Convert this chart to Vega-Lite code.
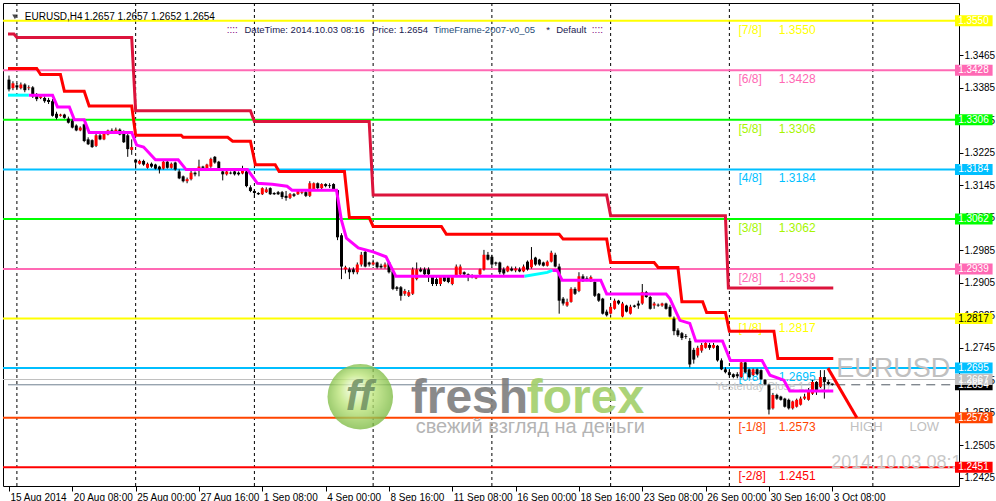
{
"$schema":"https://vega.github.io/schema/vega-lite/v6.json",
"width":956,"height":483,
"autosize":{"type":"none"},
"padding":{"left":3,"top":3,"right":37,"bottom":15},
"background":"#FFFFFF",
"config":{"view":{"stroke":"#000000","strokeWidth":1},"font":"Liberation Sans","text":{"font":"Liberation Sans"},
 "axis":{"grid":false,"domain":false,"labelFont":"Liberation Sans","labelFontSize":10,"labelColor":"#000000","tickColor":"#000000"}},
"resolve":{"scale":{"color":"independent"}},
"datasets":{
"grid":[{"i":2},{"i":32},{"i":62},{"i":92},{"i":122},{"i":152},{"i":182},{"i":218.25}],
"levels":[
{"lv":1.3550,"tag":"[7/8]","t":"1.3550"},
{"lv":1.3428,"tag":"[6/8]","t":"1.3428"},
{"lv":1.3306,"tag":"[5/8]","t":"1.3306"},
{"lv":1.3184,"tag":"[4/8]","t":"1.3184"},
{"lv":1.3062,"tag":"[3/8]","t":"1.3062"},
{"lv":1.2939,"tag":"[2/8]","t":"1.2939"},
{"lv":1.2817,"tag":"[1/8]","t":"1.2817"},
{"lv":1.2695,"tag":"[0/8]","t":"1.2695"},
{"lv":1.2573,"tag":"[-1/8]","t":"1.2573"},
{"lv":1.2451,"tag":"[-2/8]","t":"1.2451"}],
"boxes":[
{"p":1.3550,"t":"1.3550"},{"p":1.3428,"t":"1.3428"},{"p":1.3306,"t":"1.3306"},{"p":1.3184,"t":"1.3184"},
{"p":1.3062,"t":"1.3062"},{"p":1.2939,"t":"1.2939"},{"p":1.2817,"t":"1.2817"},{"p":1.2695,"t":"1.2695"},
{"p":1.2654,"t":"1.2654"},{"p":1.2667,"t":"1.2667"},{"p":1.2573,"t":"1.2573"},{"p":1.2451,"t":"1.2451"}],
"crimson":[
{"i":-0.25,"p":1.35174},{"i":1.25,"p":1.35174},{"i":2,"p":1.3509},{"i":31,"p":1.3509},{"i":32,"p":1.33282},{"i":61,"p":1.33282},{"i":62,"p":1.33017},{"i":91,"p":1.33017},{"i":92,"p":1.3121},{"i":151,"p":1.3121},{"i":152,"p":1.30703},{"i":181,"p":1.30703},{"i":181.75,"p":1.2892},{"i":208.25,"p":1.2892}],
"redline":[
{"i":-0.25,"p":1.34326},{"i":7,"p":1.34326},{"i":8,"p":1.34174},{"i":13,"p":1.34174},{"i":14,"p":1.33764},{"i":19,"p":1.33764},{"i":20.25,"p":1.33403},{"i":31,"p":1.33403},{"i":32,"p":1.3268},{"i":43.5,"p":1.3268},{"i":44,"p":1.32632},{"i":55.25,"p":1.32632},{"i":56.5,"p":1.32535},{"i":61,"p":1.32535},{"i":62.25,"p":1.31957},{"i":67.25,"p":1.31957},{"i":68.25,"p":1.31788},{"i":84.75,"p":1.31788},{"i":86,"p":1.30655},{"i":91,"p":1.30655},{"i":92,"p":1.30438},{"i":109.25,"p":1.30438},{"i":110.5,"p":1.30245},{"i":139,"p":1.30245},{"i":140,"p":1.30125},{"i":151,"p":1.30125},{"i":152,"p":1.29547},{"i":163,"p":1.29547},{"i":164,"p":1.29426},{"i":169,"p":1.29426},{"i":170,"p":1.28583},{"i":175.25,"p":1.28583},{"i":176.25,"p":1.28318},{"i":181,"p":1.28318},{"i":182,"p":1.2786},{"i":193.25,"p":1.2786},{"i":194.25,"p":1.27185},{"i":208.25,"p":1.27185}],
"magenta":[
{"i":5,"p":1.33668},{"i":11,"p":1.33668},{"i":12.25,"p":1.33379},{"i":15.25,"p":1.33379},{"i":16.5,"p":1.33065},{"i":19,"p":1.33065},{"i":20.25,"p":1.32752},{"i":31,"p":1.32752},{"i":32.25,"p":1.32439},{"i":34,"p":1.32391},{"i":37,"p":1.32077},{"i":42.75,"p":1.32077},{"i":44.75,"p":1.31836},{"i":60.25,"p":1.31836},{"i":62.75,"p":1.31499},{"i":66.5,"p":1.31475},{"i":70.25,"p":1.31427},{"i":71.5,"p":1.3133},{"i":82.75,"p":1.3133},{"i":84,"p":1.30583},{"i":85.25,"p":1.30149},{"i":88.25,"p":1.29908},{"i":92,"p":1.29812},{"i":95.25,"p":1.29691},{"i":97.75,"p":1.29209},{"i":130.25,"p":1.29209}],
"magenta2":[
{"i":137.25,"p":1.29354},{"i":138.5,"p":1.29354},{"i":139.75,"p":1.29113},{"i":149.5,"p":1.29113},{"i":151,"p":1.28776},{"i":166,"p":1.28776},{"i":167,"p":1.28655},{"i":169.5,"p":1.28125},{"i":172,"p":1.28052},{"i":173.5,"p":1.27619},{"i":180.25,"p":1.27619},{"i":182.25,"p":1.27137},{"i":190.25,"p":1.27137},{"i":192.25,"p":1.26775},{"i":195.75,"p":1.26655},{"i":197.25,"p":1.2639},{"i":208.25,"p":1.2639}],
"cyan1":[{"i":-0.25,"p":1.33668},{"i":5,"p":1.33668}],
"cyan2":[{"i":130.25,"p":1.29209},{"i":136,"p":1.29306},{"i":137.25,"p":1.29354}],
"diag":[{"i":206.9,"p":1.2695},{"i":214.2,"p":1.2573}],
"candles":[
{"i":0,"o":1.3405,"h":1.3415,"l":1.3376,"c":1.3381},
{"i":1,"o":1.3384,"h":1.3401,"l":1.3379,"c":1.3396},
{"i":2,"o":1.3391,"h":1.3396,"l":1.3381,"c":1.3386},
{"i":3,"o":1.3384,"h":1.3398,"l":1.3381,"c":1.3393},
{"i":4,"o":1.3393,"h":1.3396,"l":1.3374,"c":1.3379},
{"i":5,"o":1.3384,"h":1.3391,"l":1.3379,"c":1.3386},
{"i":6,"o":1.3386,"h":1.3389,"l":1.3360,"c":1.3364},
{"i":7,"o":1.3367,"h":1.3372,"l":1.3352,"c":1.3357},
{"i":8,"o":1.3360,"h":1.3369,"l":1.3357,"c":1.3364},
{"i":9,"o":1.3360,"h":1.3364,"l":1.3348,"c":1.3352},
{"i":10,"o":1.3355,"h":1.3360,"l":1.3345,"c":1.3350},
{"i":11,"o":1.3352,"h":1.3357,"l":1.3314,"c":1.3316},
{"i":12,"o":1.3321,"h":1.3326,"l":1.3307,"c":1.3311},
{"i":13,"o":1.3316,"h":1.3321,"l":1.3314,"c":1.3319},
{"i":14,"o":1.3319,"h":1.3321,"l":1.3309,"c":1.3311},
{"i":15,"o":1.3309,"h":1.3314,"l":1.3297,"c":1.3299},
{"i":16,"o":1.3304,"h":1.3309,"l":1.3285,"c":1.3287},
{"i":17,"o":1.3292,"h":1.3295,"l":1.3278,"c":1.3280},
{"i":18,"o":1.3280,"h":1.3290,"l":1.3278,"c":1.3287},
{"i":19,"o":1.3295,"h":1.3297,"l":1.3251,"c":1.3254},
{"i":20,"o":1.3258,"h":1.3263,"l":1.3244,"c":1.3246},
{"i":21,"o":1.3256,"h":1.3258,"l":1.3237,"c":1.3239},
{"i":22,"o":1.3242,"h":1.3273,"l":1.3239,"c":1.3268},
{"i":23,"o":1.3268,"h":1.3275,"l":1.3256,"c":1.3258},
{"i":24,"o":1.3258,"h":1.3278,"l":1.3256,"c":1.3273},
{"i":25,"o":1.3270,"h":1.3282,"l":1.3268,"c":1.3280},
{"i":26,"o":1.3280,"h":1.3285,"l":1.3273,"c":1.3275},
{"i":27,"o":1.3275,"h":1.3287,"l":1.3273,"c":1.3282},
{"i":28,"o":1.3282,"h":1.3285,"l":1.3268,"c":1.3270},
{"i":29,"o":1.3275,"h":1.3280,"l":1.3249,"c":1.3251},
{"i":30,"o":1.3268,"h":1.3273,"l":1.3215,"c":1.3234},
{"i":31,"o":1.3232,"h":1.3258,"l":1.3220,"c":1.3239},
{"i":32,"o":1.3208,"h":1.3210,"l":1.3186,"c":1.3201},
{"i":33,"o":1.3198,"h":1.3208,"l":1.3196,"c":1.3205},
{"i":34,"o":1.3205,"h":1.3208,"l":1.3193,"c":1.3196},
{"i":35,"o":1.3188,"h":1.3201,"l":1.3186,"c":1.3198},
{"i":36,"o":1.3198,"h":1.3201,"l":1.3188,"c":1.3191},
{"i":37,"o":1.3196,"h":1.3198,"l":1.3184,"c":1.3186},
{"i":38,"o":1.3191,"h":1.3193,"l":1.3174,"c":1.3184},
{"i":39,"o":1.3186,"h":1.3205,"l":1.3184,"c":1.3203},
{"i":40,"o":1.3203,"h":1.3205,"l":1.3186,"c":1.3188},
{"i":41,"o":1.3188,"h":1.3201,"l":1.3186,"c":1.3198},
{"i":42,"o":1.3201,"h":1.3203,"l":1.3181,"c":1.3184},
{"i":43,"o":1.3179,"h":1.3184,"l":1.3160,"c":1.3162},
{"i":44,"o":1.3167,"h":1.3169,"l":1.3152,"c":1.3155},
{"i":45,"o":1.3155,"h":1.3164,"l":1.3150,"c":1.3160},
{"i":46,"o":1.3160,"h":1.3181,"l":1.3157,"c":1.3176},
{"i":47,"o":1.3176,"h":1.3179,"l":1.3167,"c":1.3172},
{"i":48,"o":1.3181,"h":1.3208,"l":1.3167,"c":1.3191},
{"i":49,"o":1.3191,"h":1.3193,"l":1.3186,"c":1.3188},
{"i":50,"o":1.3186,"h":1.3198,"l":1.3184,"c":1.3196},
{"i":51,"o":1.3191,"h":1.3213,"l":1.3188,"c":1.3210},
{"i":52,"o":1.3215,"h":1.3217,"l":1.3198,"c":1.3201},
{"i":53,"o":1.3203,"h":1.3205,"l":1.3184,"c":1.3186},
{"i":54,"o":1.3179,"h":1.3184,"l":1.3157,"c":1.3172},
{"i":55,"o":1.3172,"h":1.3181,"l":1.3169,"c":1.3179},
{"i":56,"o":1.3176,"h":1.3179,"l":1.3172,"c":1.3174},
{"i":57,"o":1.3179,"h":1.3181,"l":1.3169,"c":1.3172},
{"i":58,"o":1.3176,"h":1.3179,"l":1.3169,"c":1.3172},
{"i":59,"o":1.3174,"h":1.3193,"l":1.3172,"c":1.3181},
{"i":60,"o":1.3179,"h":1.3184,"l":1.3140,"c":1.3143},
{"i":61,"o":1.3140,"h":1.3145,"l":1.3128,"c":1.3131},
{"i":62,"o":1.3131,"h":1.3135,"l":1.3114,"c":1.3126},
{"i":63,"o":1.3126,"h":1.3128,"l":1.3121,"c":1.3123},
{"i":64,"o":1.3123,"h":1.3140,"l":1.3121,"c":1.3138},
{"i":65,"o":1.3128,"h":1.3140,"l":1.3126,"c":1.3135},
{"i":66,"o":1.3138,"h":1.3140,"l":1.3121,"c":1.3123},
{"i":67,"o":1.3126,"h":1.3128,"l":1.3121,"c":1.3123},
{"i":68,"o":1.3128,"h":1.3131,"l":1.3121,"c":1.3123},
{"i":69,"o":1.3128,"h":1.3131,"l":1.3111,"c":1.3116},
{"i":70,"o":1.3119,"h":1.3131,"l":1.3107,"c":1.3114},
{"i":71,"o":1.3114,"h":1.3126,"l":1.3111,"c":1.3123},
{"i":72,"o":1.3123,"h":1.3126,"l":1.3116,"c":1.3119},
{"i":73,"o":1.3123,"h":1.3133,"l":1.3121,"c":1.3131},
{"i":74,"o":1.3126,"h":1.3133,"l":1.3123,"c":1.3128},
{"i":75,"o":1.3128,"h":1.3131,"l":1.3116,"c":1.3119},
{"i":76,"o":1.3119,"h":1.3155,"l":1.3116,"c":1.3150},
{"i":77,"o":1.3135,"h":1.3152,"l":1.3133,"c":1.3150},
{"i":78,"o":1.3150,"h":1.3152,"l":1.3135,"c":1.3138},
{"i":79,"o":1.3138,"h":1.3150,"l":1.3135,"c":1.3148},
{"i":80,"o":1.3148,"h":1.3150,"l":1.3140,"c":1.3143},
{"i":81,"o":1.3145,"h":1.3150,"l":1.3138,"c":1.3143},
{"i":82,"o":1.3148,"h":1.3150,"l":1.3133,"c":1.3135},
{"i":83,"o":1.3133,"h":1.3135,"l":1.3010,"c":1.3017},
{"i":84,"o":1.3022,"h":1.3027,"l":1.2914,"c":1.2945},
{"i":85,"o":1.2938,"h":1.2947,"l":1.2928,"c":1.2943},
{"i":86,"o":1.2938,"h":1.2943,"l":1.2914,"c":1.2931},
{"i":87,"o":1.2938,"h":1.2943,"l":1.2926,"c":1.2931},
{"i":88,"o":1.2931,"h":1.2955,"l":1.2926,"c":1.2950},
{"i":89,"o":1.2950,"h":1.2981,"l":1.2945,"c":1.2974},
{"i":90,"o":1.2981,"h":1.2986,"l":1.2943,"c":1.2945},
{"i":91,"o":1.2955,"h":1.2957,"l":1.2945,"c":1.2950},
{"i":92,"o":1.2950,"h":1.2962,"l":1.2947,"c":1.2955},
{"i":93,"o":1.2955,"h":1.2957,"l":1.2940,"c":1.2943},
{"i":94,"o":1.2947,"h":1.2952,"l":1.2940,"c":1.2943},
{"i":95,"o":1.2943,"h":1.2955,"l":1.2940,"c":1.2950},
{"i":96,"o":1.2955,"h":1.2957,"l":1.2928,"c":1.2931},
{"i":97,"o":1.2933,"h":1.2935,"l":1.2887,"c":1.2890},
{"i":98,"o":1.2894,"h":1.2897,"l":1.2885,"c":1.2890},
{"i":99,"o":1.2894,"h":1.2897,"l":1.2861,"c":1.2873},
{"i":100,"o":1.2878,"h":1.2890,"l":1.2873,"c":1.2885},
{"i":101,"o":1.2873,"h":1.2887,"l":1.2870,"c":1.2882},
{"i":102,"o":1.2878,"h":1.2943,"l":1.2875,"c":1.2938},
{"i":103,"o":1.2914,"h":1.2955,"l":1.2911,"c":1.2938},
{"i":104,"o":1.2938,"h":1.2943,"l":1.2931,"c":1.2933},
{"i":105,"o":1.2938,"h":1.2943,"l":1.2923,"c":1.2926},
{"i":106,"o":1.2938,"h":1.2943,"l":1.2907,"c":1.2926},
{"i":107,"o":1.2921,"h":1.2923,"l":1.2897,"c":1.2902},
{"i":108,"o":1.2914,"h":1.2919,"l":1.2897,"c":1.2902},
{"i":109,"o":1.2902,"h":1.2923,"l":1.2897,"c":1.2919},
{"i":110,"o":1.2919,"h":1.2923,"l":1.2907,"c":1.2909},
{"i":111,"o":1.2919,"h":1.2923,"l":1.2904,"c":1.2907},
{"i":112,"o":1.2902,"h":1.2923,"l":1.2899,"c":1.2919},
{"i":113,"o":1.2921,"h":1.2950,"l":1.2919,"c":1.2945},
{"i":114,"o":1.2926,"h":1.2950,"l":1.2923,"c":1.2945},
{"i":115,"o":1.2931,"h":1.2933,"l":1.2923,"c":1.2926},
{"i":116,"o":1.2926,"h":1.2928,"l":1.2909,"c":1.2921},
{"i":117,"o":1.2921,"h":1.2926,"l":1.2916,"c":1.2919},
{"i":118,"o":1.2916,"h":1.2923,"l":1.2914,"c":1.2919},
{"i":119,"o":1.2926,"h":1.2940,"l":1.2921,"c":1.2938},
{"i":120,"o":1.2938,"h":1.2986,"l":1.2935,"c":1.2974},
{"i":121,"o":1.2974,"h":1.2981,"l":1.2960,"c":1.2962},
{"i":122,"o":1.2969,"h":1.2974,"l":1.2943,"c":1.2950},
{"i":123,"o":1.2955,"h":1.2957,"l":1.2947,"c":1.2952},
{"i":124,"o":1.2955,"h":1.2957,"l":1.2926,"c":1.2931},
{"i":125,"o":1.2938,"h":1.2943,"l":1.2923,"c":1.2928},
{"i":126,"o":1.2933,"h":1.2947,"l":1.2931,"c":1.2945},
{"i":127,"o":1.2940,"h":1.2945,"l":1.2933,"c":1.2935},
{"i":128,"o":1.2935,"h":1.2945,"l":1.2931,"c":1.2940},
{"i":129,"o":1.2938,"h":1.2943,"l":1.2931,"c":1.2933},
{"i":130,"o":1.2933,"h":1.2950,"l":1.2931,"c":1.2945},
{"i":131,"o":1.2957,"h":1.2960,"l":1.2935,"c":1.2938},
{"i":132,"o":1.2943,"h":1.2993,"l":1.2940,"c":1.2962},
{"i":133,"o":1.2967,"h":1.2969,"l":1.2947,"c":1.2950},
{"i":134,"o":1.2962,"h":1.2964,"l":1.2947,"c":1.2950},
{"i":135,"o":1.2955,"h":1.2957,"l":1.2945,"c":1.2947},
{"i":136,"o":1.2947,"h":1.2960,"l":1.2945,"c":1.2957},
{"i":137,"o":1.2957,"h":1.2984,"l":1.2955,"c":1.2979},
{"i":138,"o":1.2974,"h":1.2979,"l":1.2943,"c":1.2945},
{"i":139,"o":1.2945,"h":1.2952,"l":1.2829,"c":1.2861},
{"i":140,"o":1.2866,"h":1.2870,"l":1.2849,"c":1.2854},
{"i":141,"o":1.2849,"h":1.2866,"l":1.2846,"c":1.2858},
{"i":142,"o":1.2858,"h":1.2894,"l":1.2856,"c":1.2890},
{"i":143,"o":1.2890,"h":1.2894,"l":1.2875,"c":1.2878},
{"i":144,"o":1.2885,"h":1.2931,"l":1.2882,"c":1.2921},
{"i":145,"o":1.2921,"h":1.2926,"l":1.2907,"c":1.2909},
{"i":146,"o":1.2916,"h":1.2921,"l":1.2909,"c":1.2911},
{"i":147,"o":1.2909,"h":1.2923,"l":1.2907,"c":1.2919},
{"i":148,"o":1.2907,"h":1.2909,"l":1.2870,"c":1.2873},
{"i":149,"o":1.2878,"h":1.2880,"l":1.2858,"c":1.2861},
{"i":150,"o":1.2866,"h":1.2868,"l":1.2827,"c":1.2829},
{"i":151,"o":1.2834,"h":1.2839,"l":1.2822,"c":1.2825},
{"i":152,"o":1.2829,"h":1.2851,"l":1.2827,"c":1.2846},
{"i":153,"o":1.2841,"h":1.2866,"l":1.2839,"c":1.2861},
{"i":154,"o":1.2861,"h":1.2863,"l":1.2851,"c":1.2854},
{"i":155,"o":1.2822,"h":1.2858,"l":1.2820,"c":1.2854},
{"i":156,"o":1.2849,"h":1.2851,"l":1.2832,"c":1.2834},
{"i":157,"o":1.2829,"h":1.2851,"l":1.2827,"c":1.2846},
{"i":158,"o":1.2849,"h":1.2851,"l":1.2844,"c":1.2846},
{"i":159,"o":1.2854,"h":1.2861,"l":1.2841,"c":1.2849},
{"i":160,"o":1.2854,"h":1.2902,"l":1.2851,"c":1.2882},
{"i":161,"o":1.2882,"h":1.2885,"l":1.2868,"c":1.2870},
{"i":162,"o":1.2870,"h":1.2873,"l":1.2839,"c":1.2841},
{"i":163,"o":1.2849,"h":1.2858,"l":1.2841,"c":1.2854},
{"i":164,"o":1.2851,"h":1.2854,"l":1.2846,"c":1.2849},
{"i":165,"o":1.2849,"h":1.2856,"l":1.2846,"c":1.2854},
{"i":166,"o":1.2854,"h":1.2856,"l":1.2839,"c":1.2841},
{"i":167,"o":1.2846,"h":1.2851,"l":1.2820,"c":1.2822},
{"i":168,"o":1.2817,"h":1.2822,"l":1.2776,"c":1.2786},
{"i":169,"o":1.2788,"h":1.2793,"l":1.2772,"c":1.2776},
{"i":170,"o":1.2781,"h":1.2784,"l":1.2764,"c":1.2769},
{"i":171,"o":1.2774,"h":1.2779,"l":1.2767,"c":1.2772},
{"i":172,"o":1.2762,"h":1.2769,"l":1.2697,"c":1.2704},
{"i":173,"o":1.2740,"h":1.2745,"l":1.2706,"c":1.2716},
{"i":174,"o":1.2726,"h":1.2750,"l":1.2721,"c":1.2745},
{"i":175,"o":1.2738,"h":1.2757,"l":1.2733,"c":1.2752},
{"i":176,"o":1.2745,"h":1.2762,"l":1.2743,"c":1.2757},
{"i":177,"o":1.2752,"h":1.2757,"l":1.2740,"c":1.2745},
{"i":178,"o":1.2745,"h":1.2757,"l":1.2743,"c":1.2752},
{"i":179,"o":1.2750,"h":1.2752,"l":1.2711,"c":1.2714},
{"i":180,"o":1.2714,"h":1.2719,"l":1.2690,"c":1.2692},
{"i":181,"o":1.2692,"h":1.2697,"l":1.2682,"c":1.2685},
{"i":182,"o":1.2685,"h":1.2690,"l":1.2675,"c":1.2678},
{"i":183,"o":1.2680,"h":1.2682,"l":1.2670,"c":1.2673},
{"i":184,"o":1.2680,"h":1.2685,"l":1.2670,"c":1.2675},
{"i":185,"o":1.2673,"h":1.2714,"l":1.2670,"c":1.2709},
{"i":186,"o":1.2709,"h":1.2711,"l":1.2682,"c":1.2685},
{"i":187,"o":1.2692,"h":1.2694,"l":1.2670,"c":1.2673},
{"i":188,"o":1.2678,"h":1.2694,"l":1.2675,"c":1.2692},
{"i":189,"o":1.2692,"h":1.2694,"l":1.2678,"c":1.2680},
{"i":190,"o":1.2690,"h":1.2692,"l":1.2666,"c":1.2668},
{"i":191,"o":1.2666,"h":1.2668,"l":1.2653,"c":1.2656},
{"i":192,"o":1.2653,"h":1.2656,"l":1.2581,"c":1.2593},
{"i":193,"o":1.2596,"h":1.2634,"l":1.2593,"c":1.2629},
{"i":194,"o":1.2629,"h":1.2632,"l":1.2617,"c":1.2620},
{"i":195,"o":1.2625,"h":1.2627,"l":1.2615,"c":1.2617},
{"i":196,"o":1.2620,"h":1.2622,"l":1.2598,"c":1.2600},
{"i":197,"o":1.2617,"h":1.2620,"l":1.2593,"c":1.2596},
{"i":198,"o":1.2596,"h":1.2615,"l":1.2593,"c":1.2613},
{"i":199,"o":1.2600,"h":1.2620,"l":1.2598,"c":1.2617},
{"i":200,"o":1.2605,"h":1.2625,"l":1.2603,"c":1.2620},
{"i":201,"o":1.2620,"h":1.2632,"l":1.2617,"c":1.2625},
{"i":202,"o":1.2617,"h":1.2646,"l":1.2615,"c":1.2641},
{"i":203,"o":1.2632,"h":1.2666,"l":1.2629,"c":1.2661},
{"i":204,"o":1.2661,"h":1.2663,"l":1.2629,"c":1.2641},
{"i":205,"o":1.2649,"h":1.2690,"l":1.2646,"c":1.2673},
{"i":206,"o":1.2673,"h":1.2690,"l":1.2620,"c":1.2661},
{"i":207,"o":1.2661,"h":1.2666,"l":1.2653,"c":1.2656},
{"i":208,"o":1.2657,"h":1.2657,"l":1.2652,"c":1.2654}]
},
"layer":[
{"data":{"name":"grid"},"mark":{"type":"rule","strokeDash":[3,3],"color":"#000000","strokeWidth":1},
 "encoding":{"x":{"field":"i","type":"quantitative","title":null,"scale":{"domain":[-0.25,238.75],"nice":false,"zero":false},
  "axis":{"title":null,"grid":false,"domain":false,"values":[0,16,32,48,64,80,96,112,128,144,160,176,192,208],"tickCount":40,
   "labelExpr":"['15 Aug 2014','20 Aug 08:00','25 Aug 00:00','27 Aug 16:00','1 Sep 08:00','4 Sep 00:00','8 Sep 16:00','11 Sep 08:00','16 Sep 00:00','18 Sep 16:00','23 Sep 08:00','26 Sep 00:00','30 Sep 16:00','3 Oct 08:00'][round(datum.value/16)]",
   "labelAlign":"left","labelOffset":1,"labelFlush":false,"labelOverlap":false,"labelFont":"Liberation Sans","labelFontSize":10,"labelColor":"#000000","tickColor":"#000000","tickSize":5,"labelPadding":1,"labelBaseline":"top"}}}},
{"data":{"name":"levels"},"mark":{"type":"rule","strokeWidth":2},
 "encoding":{"y":{"field":"lv","type":"quantitative","title":null,"scale":{"domain":[1.24172,1.35813],"nice":false,"zero":false},
  "axis":{"title":null,"grid":false,"domain":false,"orient":"right","values":[1.2425,1.2505,1.2585,1.2665,1.2745,1.2825,1.2905,1.2985,1.3065,1.3145,1.3225,1.3305,1.3385,1.3465],"tickCount":40,"format":".4f",
   "labelFont":"Liberation Sans","labelFontSize":10,"labelColor":"#000000","tickColor":"#000000","tickSize":4,"labelPadding":1,"labelAlign":"left","labelBaseline":"middle","labelFlush":false,"labelOverlap":false}},
  "color":{"field":"tag","type":"nominal","legend":null,"scale":{"domain":["[7/8]","[6/8]","[5/8]","[4/8]","[3/8]","[2/8]","[1/8]","[0/8]","[-1/8]","[-2/8]"],"range":["#FFFF00","#FF69B4","#00FF00","#00BFFF","#00FF00","#FF69B4","#FFFF00","#00BFFF","#FF4500","#FF0000"]}}}},
{"data":{"values":[{"p":1.2667}]},"mark":{"type":"rule","strokeWidth":1,"color":"#C0C0C0"},
 "encoding":{"y":{"field":"p","type":"quantitative","title":null}}},
{"data":{"values":[{"p":1.2654}]},"mark":{"type":"rule","strokeWidth":1,"color":"#708090"},
 "encoding":{"y":{"field":"p","type":"quantitative","title":null},"x":{"datum":-0.25,"type":"quantitative","axis":{"title":null}},"x2":{"datum":209}}},
{"data":{"values":[{"p":1.2654}]},"mark":{"type":"rule","strokeWidth":1,"color":"#505A64","strokeDash":[9,6]},
 "encoding":{"y":{"field":"p","type":"quantitative","title":null},"x":{"datum":209,"type":"quantitative","axis":{"title":null}},"x2":{"datum":238.75}}},
{"data":{"name":"levels"},"mark":{"type":"text","align":"left","baseline":"middle","dy":9,"fontSize":12,"font":"Liberation Sans"},
 "encoding":{"y":{"field":"lv","type":"quantitative","title":null},"x":{"datum":184.3,"type":"quantitative","axis":{"title":null}},"text":{"field":"tag"},
  "color":{"field":"tag","type":"nominal","legend":null,"scale":{"domain":["[7/8]","[6/8]","[5/8]","[4/8]","[3/8]","[2/8]","[1/8]","[0/8]","[-1/8]","[-2/8]"],"range":["#FFFF00","#FF69B4","#A6F500","#00BFFF","#A6F500","#FF69B4","#FFFF00","#00BFFF","#FF4500","#FF0000"]}}}},
{"data":{"name":"levels"},"mark":{"type":"text","align":"left","baseline":"middle","dy":9,"fontSize":12,"font":"Liberation Sans"},
 "encoding":{"y":{"field":"lv","type":"quantitative","title":null},"x":{"datum":194.5,"type":"quantitative","axis":{"title":null}},"text":{"field":"t"},
  "color":{"field":"tag","type":"nominal","legend":null,"scale":{"domain":["[7/8]","[6/8]","[5/8]","[4/8]","[3/8]","[2/8]","[1/8]","[0/8]","[-1/8]","[-2/8]"],"range":["#FFFF00","#FF69B4","#A6F500","#00BFFF","#A6F500","#FF69B4","#FFFF00","#00BFFF","#FF4500","#FF0000"]}}}},
{"data":{"values":[{"s":"Yesterday Close 1.2667"}]},"mark":{"type":"text","align":"left","baseline":"middle","fontSize":11,"color":"#C8C8C8"},
 "encoding":{"x":{"datum":178.5,"type":"quantitative","axis":{"title":null}},"y":{"datum":1.26486,"type":"quantitative","axis":{"title":null}},"text":{"field":"s"}}},
{"data":{"name":"candles"},"mark":{"type":"rule","strokeWidth":1,"color":"#000000"},
 "encoding":{"x":{"field":"i","type":"quantitative","title":null},"y":{"field":"l","type":"quantitative","title":null},"y2":{"field":"h"}}},
{"data":{"name":"candles"},"mark":{"type":"bar","width":3,"orient":"vertical"},
 "encoding":{"x":{"field":"i","type":"quantitative","title":null},"y":{"field":"o","type":"quantitative","title":null},"y2":{"field":"c"},
  "color":{"condition":{"test":"datum.c > datum.o","value":"#FF0000"},"value":"#000000"}}},
{"data":{"name":"crimson"},"mark":{"type":"line","color":"#DC143C","strokeWidth":3},
 "encoding":{"x":{"field":"i","type":"quantitative","title":null},"y":{"field":"p","type":"quantitative","title":null}}},
{"data":{"name":"redline"},"mark":{"type":"line","color":"#FF0000","strokeWidth":3},
 "encoding":{"x":{"field":"i","type":"quantitative","title":null},"y":{"field":"p","type":"quantitative","title":null}}},
{"data":{"name":"magenta"},"mark":{"type":"line","color":"#FF00FF","strokeWidth":3},
 "encoding":{"x":{"field":"i","type":"quantitative","title":null},"y":{"field":"p","type":"quantitative","title":null}}},
{"data":{"name":"magenta2"},"mark":{"type":"line","color":"#FF00FF","strokeWidth":3},
 "encoding":{"x":{"field":"i","type":"quantitative","title":null},"y":{"field":"p","type":"quantitative","title":null}}},
{"data":{"name":"cyan1"},"mark":{"type":"line","color":"#00FFFF","strokeWidth":3},
 "encoding":{"x":{"field":"i","type":"quantitative","title":null},"y":{"field":"p","type":"quantitative","title":null}}},
{"data":{"name":"cyan2"},"mark":{"type":"line","color":"#00FFFF","strokeWidth":3},
 "encoding":{"x":{"field":"i","type":"quantitative","title":null},"y":{"field":"p","type":"quantitative","title":null}}},
{"data":{"name":"diag"},"mark":{"type":"line","color":"#FF0000","strokeWidth":3},
 "encoding":{"x":{"field":"i","type":"quantitative","title":null},"y":{"field":"p","type":"quantitative","title":null}}},
{"data":{"values":[{}]},"mark":{"type":"point","shape":"circle","filled":true,"size":4300,"opacity":0.78,"strokeWidth":0,
  "fill":{"gradient":"radial","x1":0.4,"y1":0.35,"r1":0.02,"x2":0.5,"y2":0.5,"r2":0.55,"stops":[{"offset":0,"color":"#F6FFE6"},{"offset":0.45,"color":"#BDE57A"},{"offset":1,"color":"#72B33A"}]}},
 "encoding":{"x":{"datum":88.75,"type":"quantitative","axis":{"title":null}},"y":{"datum":1.26245,"type":"quantitative","axis":{"title":null}}}},
{"data":{"values":[{"s":"ff"}]},"mark":{"type":"text","align":"center","baseline":"middle","fontSize":42,"fontWeight":"bold","fontStyle":"italic","color":"#6F8F62","opacity":0.85},
 "encoding":{"x":{"datum":88.5,"type":"quantitative","axis":{"title":null}},"y":{"datum":1.26245,"type":"quantitative","axis":{"title":null}},"text":{"field":"s"}}},
{"data":{"values":[{"s":"fresh"}]},"mark":{"type":"text","align":"left","baseline":"alphabetic","fontSize":48,"fontWeight":"bold","color":"#7E7E7E","opacity":0.9},
 "encoding":{"x":{"datum":101.5,"type":"quantitative","axis":{"title":null}},"y":{"datum":1.25835,"type":"quantitative","axis":{"title":null}},"text":{"field":"s"}}},
{"data":{"values":[{"s":"forex"}]},"mark":{"type":"text","align":"left","baseline":"alphabetic","fontSize":48,"fontWeight":"bold","color":"#A2CF6A","opacity":0.9},
 "encoding":{"x":{"datum":130.8,"type":"quantitative","axis":{"title":null}},"y":{"datum":1.25835,"type":"quantitative","axis":{"title":null}},"text":{"field":"s"}}},
{"data":{"values":[{"s":"свежий взгляд на деньги"}]},"mark":{"type":"text","align":"left","baseline":"alphabetic","fontSize":20,"color":"#B4B4B4"},
 "encoding":{"x":{"datum":102.75,"type":"quantitative","axis":{"title":null}},"y":{"datum":1.25353,"type":"quantitative","axis":{"title":null}},"text":{"field":"s"}}},
{"data":{"values":[{"s":"EURUSD"}]},"mark":{"type":"text","align":"left","baseline":"middle","fontSize":27,"color":"#C0C0C0"},
 "encoding":{"x":{"datum":209,"type":"quantitative","axis":{"title":null}},"y":{"datum":1.2692,"type":"quantitative","axis":{"title":null}},"text":{"field":"s"}}},
{"data":{"values":[{"s":"HIGH"}]},"mark":{"type":"text","align":"left","baseline":"middle","fontSize":13,"color":"#C0C0C0"},
 "encoding":{"x":{"datum":212.5,"type":"quantitative","axis":{"title":null}},"y":{"datum":1.25498,"type":"quantitative","axis":{"title":null}},"text":{"field":"s"}}},
{"data":{"values":[{"s":"LOW"}]},"mark":{"type":"text","align":"left","baseline":"middle","fontSize":13,"color":"#C0C0C0"},
 "encoding":{"x":{"datum":227.5,"type":"quantitative","axis":{"title":null}},"y":{"datum":1.25498,"type":"quantitative","axis":{"title":null}},"text":{"field":"s"}}},
{"data":{"values":[{"s":"2014.10.03 08:16"}]},"mark":{"type":"text","align":"left","baseline":"middle","fontSize":18,"color":"#C8C8C8","clip":true},
 "encoding":{"x":{"datum":207.75,"type":"quantitative","axis":{"title":null}},"y":{"datum":1.24606,"type":"quantitative","axis":{"title":null}},"text":{"field":"s"}}},
{"data":{"values":[{}]},"mark":{"type":"point","shape":"triangle-down","filled":true,"size":30,"color":"#000000"},
 "encoding":{"x":{"datum":1.5,"type":"quantitative","axis":{"title":null}},"y":{"datum":1.35596,"type":"quantitative","axis":{"title":null}}}},
{"data":{"values":[{"s":"EURUSD,H4"}]},"mark":{"type":"text","align":"left","baseline":"middle","fontSize":10,"color":"#000000"},
 "encoding":{"x":{"datum":4,"type":"quantitative","axis":{"title":null}},"y":{"datum":1.35596,"type":"quantitative","axis":{"title":null}},"text":{"field":"s"}}},
{"data":{"values":[{"s":"1.2657 1.2657 1.2652 1.2654"}]},"mark":{"type":"text","align":"left","baseline":"middle","fontSize":10,"color":"#000000"},
 "encoding":{"x":{"datum":19,"type":"quantitative","axis":{"title":null}},"y":{"datum":1.35596,"type":"quantitative","axis":{"title":null}},"text":{"field":"s"}}},
{"data":{"values":[{"s":"::::"}]},"mark":{"type":"text","align":"left","baseline":"middle","fontSize":10,"color":"#800080"},
 "encoding":{"x":{"datum":55,"type":"quantitative","axis":{"title":null}},"y":{"datum":1.35282,"type":"quantitative","axis":{"title":null}},"text":{"field":"s"}}},
{"data":{"values":[{"s":"DateTime: 2014.10.03 08:16"}]},"mark":{"type":"text","align":"left","baseline":"middle","fontSize":9.5,"color":"#1A1A50"},
 "encoding":{"x":{"datum":59.5,"type":"quantitative","axis":{"title":null}},"y":{"datum":1.35282,"type":"quantitative","axis":{"title":null}},"text":{"field":"s"}}},
{"data":{"values":[{"s":"Price: 1.2654"}]},"mark":{"type":"text","align":"left","baseline":"middle","fontSize":9.5,"color":"#1A1A50"},
 "encoding":{"x":{"datum":91.75,"type":"quantitative","axis":{"title":null}},"y":{"datum":1.35282,"type":"quantitative","axis":{"title":null}},"text":{"field":"s"}}},
{"data":{"values":[{"s":"TimeFrame-2007-v0_05"}]},"mark":{"type":"text","align":"left","baseline":"middle","fontSize":9.5,"color":"#1F4E79"},
 "encoding":{"x":{"datum":107.25,"type":"quantitative","axis":{"title":null}},"y":{"datum":1.35282,"type":"quantitative","axis":{"title":null}},"text":{"field":"s"}}},
{"data":{"values":[{"s":"*"}]},"mark":{"type":"text","align":"left","baseline":"middle","fontSize":9.5,"color":"#1A1A50"},
 "encoding":{"x":{"datum":135.75,"type":"quantitative","axis":{"title":null}},"y":{"datum":1.35282,"type":"quantitative","axis":{"title":null}},"text":{"field":"s"}}},
{"data":{"values":[{"s":"Default"}]},"mark":{"type":"text","align":"left","baseline":"middle","fontSize":9.5,"color":"#1A1A50"},
 "encoding":{"x":{"datum":138.25,"type":"quantitative","axis":{"title":null}},"y":{"datum":1.35282,"type":"quantitative","axis":{"title":null}},"text":{"field":"s"}}},
{"data":{"values":[{"s":"::::"}]},"mark":{"type":"text","align":"left","baseline":"middle","fontSize":10,"color":"#800080"},
 "encoding":{"x":{"datum":147.25,"type":"quantitative","axis":{"title":null}},"y":{"datum":1.35282,"type":"quantitative","axis":{"title":null}},"text":{"field":"s"}}},
{"data":{"name":"boxes"},"mark":{"type":"bar","height":11,"orient":"horizontal"},
 "encoding":{"y":{"field":"p","type":"quantitative","title":null},"x":{"datum":239,"type":"quantitative","axis":{"title":null}},"x2":{"datum":248.5},
  "color":{"field":"t","type":"nominal","legend":null,"scale":{"domain":["1.3550","1.3428","1.3306","1.3184","1.3062","1.2939","1.2817","1.2695","1.2654","1.2667","1.2573","1.2451"],"range":["#FFFF00","#FF69B4","#00FF00","#00BFFF","#00FF00","#FF69B4","#FFFF00","#00BFFF","#000000","#C0C0C0","#FF4500","#FF0000"]}}}},
{"data":{"name":"boxes"},"mark":{"type":"text","align":"left","baseline":"middle","fontSize":10},
 "encoding":{"y":{"field":"p","type":"quantitative","title":null},"x":{"datum":239.8,"type":"quantitative","axis":{"title":null}},"text":{"field":"t"},
  "color":{"field":"t","type":"nominal","legend":null,"scale":{"domain":["1.3550","1.3428","1.3306","1.3184","1.3062","1.2939","1.2817","1.2695","1.2654","1.2667","1.2573","1.2451"],"range":["#FFFFFF","#FFFFFF","#FFFFFF","#FFFFFF","#FFFFFF","#FFFFFF","#000000","#FFFFFF","#FFFFFF","#FFFFFF","#FFFFFF","#FFFFFF"]}}}}
]
}
